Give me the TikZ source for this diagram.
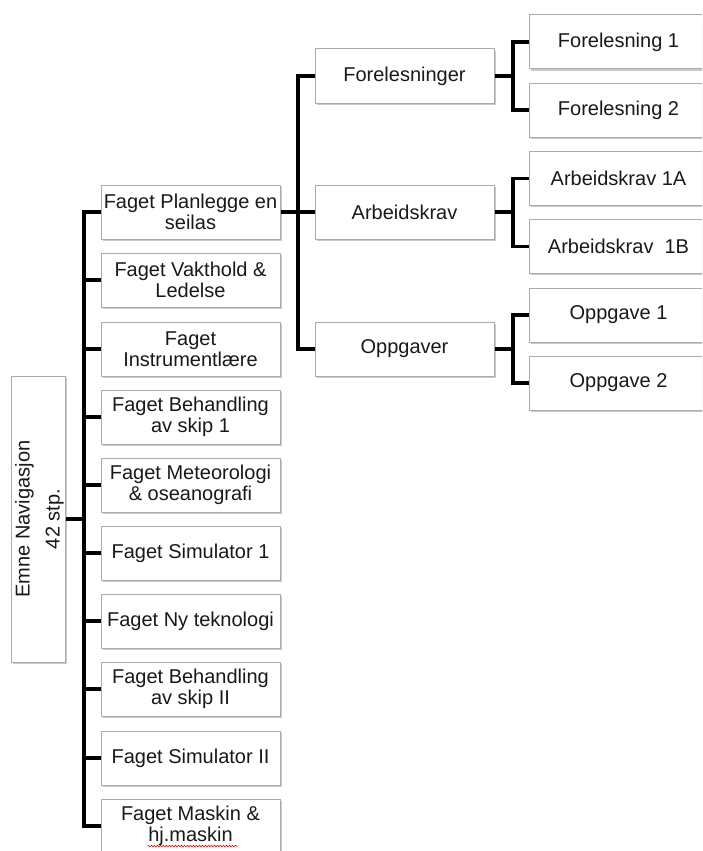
\documentclass[tikz,border=0pt]{standalone}
\usepackage{fontspec}
\setmainfont{Liberation Sans}
\usetikzlibrary{shadows,calc,decorations.pathmorphing}
\begin{document}
\begin{tikzpicture}[x=1pt,y=-1pt,
  box/.style={draw=black!33, line width=1pt, fill=white, rectangle,
    minimum width=179pt, minimum height=54pt, inner sep=0pt, align=center,
    font=\fontsize{20}{21.5}\selectfont, text=black!90,
    drop shadow={shadow xshift=1.6pt, shadow yshift=-1.6pt, opacity=0.3, fill=black!70}},
  conn/.style={line width=3.2pt, black}]
\useasboundingbox (0,0) rectangle (702,851);
\clip (0,0) rectangle (702,851);

% root
\node[box, minimum width=54pt, minimum height=286pt] (root) at (38.5,519) {};
\node[rotate=90, inner sep=0pt, align=center, text=black!90,
  font=\fontsize{20}{30}\selectfont] (roottext) at ($(root.center)+(1,0)$)
  {Emne Navigasjon\\42 stp.};

% column 1
\node[box] (c1) at (190.5,212) {Faget Planlegge en\\seilas};
\node[box] (c2) at (190.5,280) {Faget Vakthold \&\\Ledelse};
\node[box] (c3) at (190.5,349) {Faget\\Instrumentlære};
\node[box] (c4) at (190.5,417) {Faget Behandling\\av skip 1};
\node[box] (c5) at (190.5,485) {Faget Meteorologi\\\& oseanografi};
\node[box] (c6) at (190.5,553) {Faget Simulator 1};
\node[box] (c7) at (190.5,621) {Faget Ny teknologi};
\node[box] (c8) at (190.5,689) {Faget Behandling\\av skip II};
\node[box] (c9) at (190.5,758) {Faget Simulator II};
\node[box] (c10) at (190.5,826) {Faget Maskin \&\\hj.maskin};

% column 2
\node[box] (f) at (404.5,76) {Forelesninger};
\node[box] (a) at (404.5,212) {Arbeidskrav};
\node[box] (o) at (404.5,349) {Oppgaver};

% column 3
\node[box] (f1) at (618.5,42) {Forelesning 1};
\node[box] (f2) at (618.5,110) {Forelesning 2};
\node[box] (a1) at (618.5,178.5) {Arbeidskrav 1A};
\node[box] (a2) at (618.5,246.5) {Arbeidskrav\ \ 1B};
\node[box] (o1) at (618.5,315) {Oppgave 1};
\node[box] (o2) at (618.5,383) {Oppgave 2};

% connectors
\foreach \c in {c1,c2,c3,c4,c5,c6,c7,c8,c9,c10}
  \draw[conn] (root.east) -- ++(18,0) |- (\c.west);
\foreach \c in {f,a,o}
  \draw[conn] (c1.east) -- ++(17.5,0) |- (\c.west);
\foreach \p/\c in {f/f1,f/f2,a/a1,a/a2,o/o1,o/o2}
  \draw[conn] (\p.east) -- ++(18.5,0) |- (\c.west);

% spell-check underline
\draw[red, line width=0.6pt, decorate, decoration={snake, amplitude=0.8pt, segment length=3pt}]
  ($(c10.center)+(-43,20)$) -- ($(c10.center)+(47,20)$);
\end{tikzpicture}
\end{document}
